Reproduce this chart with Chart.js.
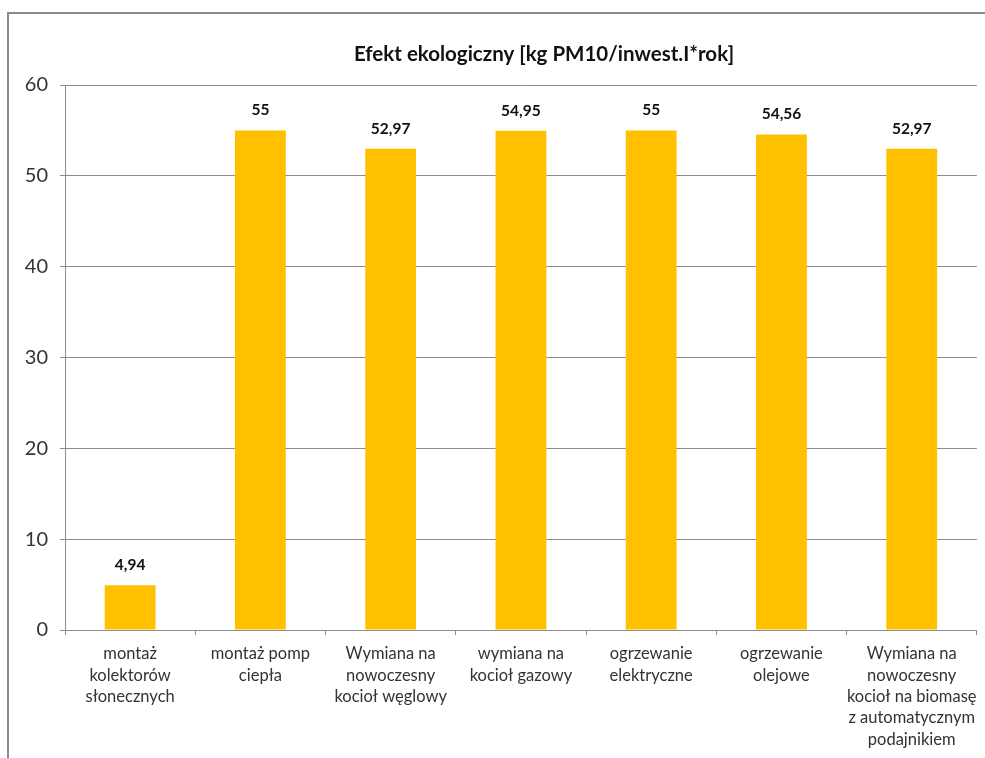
<!DOCTYPE html>
<html>
<head>
<meta charset="utf-8">
<script src="https://cdn.jsdelivr.net/npm/chart.js@4/dist/chart.umd.min.js"></script>
<style>
html,body{margin:0;padding:0;background:#fff;}
#wrap{width:985px;height:758px;position:relative;}
</style>
</head>
<body>
<div id="wrap"><canvas id="c" width="985" height="758"></canvas></div>
<script>
const categories = [
  ["montaż", "kolektorów", "słonecznych"],
  ["montaż pomp", "ciepła"],
  ["Wymiana na", "nowoczesny", "kocioł węglowy"],
  ["wymiana na", "kocioł gazowy"],
  ["ogrzewanie", "elektryczne"],
  ["ogrzewanie", "olejowe"],
  ["Wymiana na", "nowoczesny", "kocioł na biomasę", "z automatycznym", "podajnikiem"]
];
const values = [4.94, 55, 52.97, 54.95, 55, 54.56, 52.97];
const valueLabels = ["4,94", "55", "52,97", "54,95", "55", "54,56", "52,97"];
const yTicks = [0, 10, 20, 30, 40, 50, 60];
const titleText = "Efekt ekologiczny [kg PM10/inwest.I*rok]";

const FONT = "Lato, 'Open Sans', sans-serif";

const framePlugin = {
  id: 'frame',
  afterDraw(chart) {
    const ctx = chart.ctx;
    ctx.save();
    ctx.strokeStyle = '#8a8a8a';
    ctx.lineWidth = 2;
    ctx.beginPath();
    ctx.moveTo(8, 758);
    ctx.lineTo(8, 13);
    ctx.lineTo(985, 13);
    ctx.stroke();
    // title
    ctx.fillStyle = '#111';
    ctx.font = "bold 20.5px " + FONT;
    ctx.textAlign = 'center';
    ctx.textBaseline = 'middle';
    ctx.fillText(titleText, 544, 54);
    ctx.restore();
  }
};

const labelPlugin = {
  id: 'valLabels',
  afterDatasetsDraw(chart) {
    const ctx = chart.ctx;
    const meta = chart.getDatasetMeta(0);
    ctx.save();
    ctx.fillStyle = '#111';
    ctx.font = "bold 15.5px " + FONT;
    ctx.textAlign = 'center';
    ctx.textBaseline = 'middle';
    meta.data.forEach((bar, i) => {
      ctx.fillText(valueLabels[i], bar.x, bar.y - 20);
    });
    ctx.restore();
  }
};

new Chart(document.getElementById('c'), {
  type: 'bar',
  data: {
    labels: categories,
    datasets: [{
      data: values,
      backgroundColor: '#FFC000',
      borderWidth: 0,
      categoryPercentage: 1,
      barPercentage: 0.39
    }]
  },
  options: {
    responsive: false,
    animation: false,
    devicePixelRatio: 1,
    layout: { padding: { left: 0, right: 7, top: 85, bottom: 0 } },
    plugins: {
      legend: { display: false },
      tooltip: { enabled: false },
      title: { display: false }
    },
    scales: {
      x: {
        offset: true,
        grid: {
          display: true,
          drawOnChartArea: false,
          drawTicks: true,
          tickLength: 5,
          color: '#8c8c8c',
          offset: true
        },
        border: { display: true, color: '#8c8c8c', width: 1 },
        ticks: {
          color: '#333',
          font: { family: FONT, size: 16.5, lineHeight: 1.3 },
          padding: 8,
          maxRotation: 0,
          autoSkip: false
        },
        afterFit(scale) { scale.height = 128; }
      },
      y: {
        min: 0,
        max: 60,
        afterBuildTicks(scale) { scale.ticks = yTicks.map(v => ({ value: v })); },
        grid: {
          color: '#8c8c8c',
          tickLength: 5,
          drawTicks: true
        },
        border: { display: true, color: '#8c8c8c', width: 1 },
        ticks: {
          color: '#333',
          font: { family: FONT, size: 20 },
          padding: 12
        },
        afterFit(scale) { scale.width = 65; }
      }
    }
  },
  plugins: [framePlugin, labelPlugin]
});
</script>
</body>
</html>
